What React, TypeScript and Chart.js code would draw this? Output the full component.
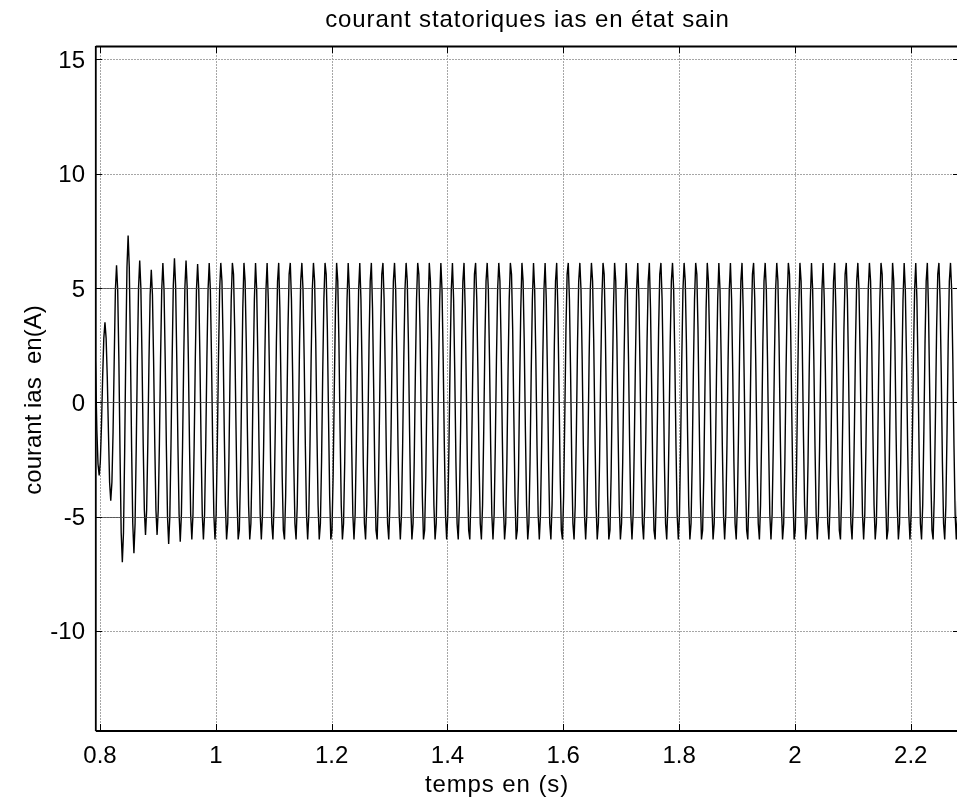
import React, { useEffect, useRef } from 'react';
import { Chart, registerables } from 'chart.js';

Chart.register(...registerables);

const TITLE = 'courant statoriques ias en état sain';
const X_LABEL = 'temps en (s)';
const Y_LABEL = 'courant ias  en(A)';

const xTicks = [0.8, 1, 1.2, 1.4, 1.6, 1.8, 2, 2.2];
const xTickLabels = ['0.8', '1', '1.2', '1.4', '1.6', '1.8', '2', '2.2'];
const yTicks = [-10, -5, 0, 5, 10, 15];
const yTickLabels = ['-10', '-5', '0', '5', '10', '15'];
const xRange = [0.7914, 2.285];
const yRange = [-14.38, 15.59];

// sampled stator current ias (A), one sample every sampleStep seconds from sampleStart
const sampleStart = 0.7886;
const sampleStep = 0.002;
const current = [
  3.1, 2.9, 1.3, -1.2, -2.7, -3.2, -2.6, -1.0, 1.1, 2.8,
  3.5, 2.8, 1.1, -1.3, -3.5, -4.3, -3.5, -1.3, 1.9, 4.9,
  6.0, 4.9, 1.9, -2.2, -5.7, -7.0, -5.7, -2.2, 2.3, 5.9,
  7.3, 5.9, 2.3, -2.0, -5.3, -6.6, -5.3, -2.0, 1.9, 5.0,
  6.2, 5.0, 1.9, -1.8, -4.7, -5.8, -4.7, -1.8, 1.8, 4.7,
  5.8, 4.7, 1.8, -1.8, -4.7, -5.8, -4.7, -1.8, 1.9, 4.9,
  6.1, 4.9, 1.9, -1.9, -5.0, -6.2, -5.0, -1.9, 1.9, 5.1,
  6.3, 5.1, 1.9, -1.9, -4.9, -6.1, -4.9, -1.9, 1.9, 5.0,
  6.2, 5.0, 1.9, -1.9, -4.9, -6.0, -4.9, -1.9, 1.9, 4.9,
  6.05, 4.9, 1.9, -1.9, -4.9, -6.0, -4.9, -1.9, 1.9, 4.9,
  6.1, 4.9, 1.9, -1.9, -4.9, -6, -4.9, -1.9, 1.9, 4.9,
  6.1, 5.3, 2.6, -1.3, -4.5, -6, -5.3, -2.6, 1.3, 4.5,
  6.1, 5.6, 3.2, -0.6, -4.1, -6, -5.6, -3.2, 0.6, 4.1,
  6.1, 5.3, 2.6, -1.3, -4.5, -6, -5.3, -2.6, 1.3, 4.5,
  6.1, 4.9, 1.9, -1.9, -4.9, -6, -4.9, -1.9, 1.9, 4.9,
  6.1, 4.5, 1.3, -2.6, -5.3, -6, -4.5, -1.3, 2.6, 5.3,
  6.1, 4.1, 0.6, -3.2, -5.6, -6, -4.1, -0.6, 3.2, 5.6,
  6.1, 4.5, 1.3, -2.6, -5.3, -6, -4.5, -1.3, 2.6, 5.3,
  6.1, 4.9, 1.9, -1.9, -4.9, -6, -4.9, -1.9, 1.9, 4.9,
  6.1, 5.3, 2.6, -1.3, -4.5, -6, -5.3, -2.6, 1.3, 4.5,
  6.1, 5.6, 3.2, -0.6, -4.1, -6, -5.6, -3.2, 0.6, 4.1,
  6.1, 5.3, 2.6, -1.3, -4.5, -6, -5.3, -2.6, 1.3, 4.5,
  6.1, 4.9, 1.9, -1.9, -4.9, -6, -4.9, -1.9, 1.9, 4.9,
  6.1, 4.5, 1.3, -2.6, -5.3, -6, -4.5, -1.3, 2.6, 5.3,
  6.1, 4.1, 0.6, -3.2, -5.6, -6, -4.1, -0.6, 3.2, 5.6,
  6.1, 4.5, 1.3, -2.6, -5.3, -6, -4.5, -1.3, 2.6, 5.3,
  6.1, 4.9, 1.9, -1.9, -4.9, -6, -4.9, -1.9, 1.9, 4.9,
  6.1, 5.3, 2.6, -1.3, -4.5, -6, -5.3, -2.6, 1.3, 4.5,
  6.1, 5.6, 3.2, -0.6, -4.1, -6, -5.6, -3.2, 0.6, 4.1,
  6.1, 5.3, 2.6, -1.3, -4.5, -6, -5.3, -2.6, 1.3, 4.5,
  6.1, 4.9, 1.9, -1.9, -4.9, -6, -4.9, -1.9, 1.9, 4.9,
  6.1, 4.5, 1.3, -2.6, -5.3, -6, -4.5, -1.3, 2.6, 5.3,
  6.1, 4.1, 0.6, -3.2, -5.6, -6, -4.1, -0.6, 3.2, 5.6,
  6.1, 4.5, 1.3, -2.6, -5.3, -6, -4.5, -1.3, 2.6, 5.3,
  6.1, 4.9, 1.9, -1.9, -4.9, -6, -4.9, -1.9, 1.9, 4.9,
  6.1, 5.3, 2.6, -1.3, -4.5, -6, -5.3, -2.6, 1.3, 4.5,
  6.1, 5.6, 3.2, -0.6, -4.1, -6, -5.6, -3.2, 0.6, 4.1,
  6.1, 5.3, 2.6, -1.3, -4.5, -6, -5.3, -2.6, 1.3, 4.5,
  6.1, 4.9, 1.9, -1.9, -4.9, -6, -4.9, -1.9, 1.9, 4.9,
  6.1, 4.5, 1.3, -2.6, -5.3, -6, -4.5, -1.3, 2.6, 5.3,
  6.1, 4.1, 0.6, -3.2, -5.6, -6, -4.1, -0.6, 3.2, 5.6,
  6.1, 4.5, 1.3, -2.6, -5.3, -6, -4.5, -1.3, 2.6, 5.3,
  6.1, 4.9, 1.9, -1.9, -4.9, -6, -4.9, -1.9, 1.9, 4.9,
  6.1, 5.3, 2.6, -1.3, -4.5, -6, -5.3, -2.6, 1.3, 4.5,
  6.1, 5.6, 3.2, -0.6, -4.1, -6, -5.6, -3.2, 0.6, 4.1,
  6.1, 5.3, 2.6, -1.3, -4.5, -6, -5.3, -2.6, 1.3, 4.5,
  6.1, 4.9, 1.9, -1.9, -4.9, -6, -4.9, -1.9, 1.9, 4.9,
  6.1, 4.5, 1.3, -2.6, -5.3, -6, -4.5, -1.3, 2.6, 5.3,
  6.1, 4.1, 0.6, -3.2, -5.6, -6, -4.1, -0.6, 3.2, 5.6,
  6.1, 4.5, 1.3, -2.6, -5.3, -6, -4.5, -1.3, 2.6, 5.3,
  6.1, 4.9, 1.9, -1.9, -4.9, -6, -4.9, -1.9, 1.9, 4.9,
  6.1, 5.3, 2.6, -1.3, -4.5, -6, -5.3, -2.6, 1.3, 4.5,
  6.1, 5.6, 3.2, -0.6, -4.1, -6, -5.6, -3.2, 0.6, 4.1,
  6.1, 5.3, 2.6, -1.3, -4.5, -6, -5.3, -2.6, 1.3, 4.5,
  6.1, 4.9, 1.9, -1.9, -4.9, -6, -4.9, -1.9, 1.9, 4.9,
  6.1, 4.5, 1.3, -2.6, -5.3, -6, -4.5, -1.3, 2.6, 5.3,
  6.1, 4.1, 0.6, -3.2, -5.6, -6, -4.1, -0.6, 3.2, 5.6,
  6.1, 4.5, 1.3, -2.6, -5.3, -6, -4.5, -1.3, 2.6, 5.3,
  6.1, 4.9, 1.9, -1.9, -4.9, -6, -4.9, -1.9, 1.9, 4.9,
  6.1, 5.3, 2.6, -1.3, -4.5, -6, -5.3, -2.6, 1.3, 4.5,
  6.1, 5.6, 3.2, -0.6, -4.1, -6, -5.6, -3.2, 0.6, 4.1,
  6.1, 5.3, 2.6, -1.3, -4.5, -6, -5.3, -2.6, 1.3, 4.5,
  6.1, 4.9, 1.9, -1.9, -4.9, -6, -4.9, -1.9, 1.9, 4.9,
  6.1, 4.5, 1.3, -2.6, -5.3, -6, -4.5, -1.3, 2.6, 5.3,
  6.1, 4.1, 0.6, -3.2, -5.6, -6, -4.1, -0.6, 3.2, 5.6,
  6.1, 4.5, 1.3, -2.6, -5.3, -6, -4.5, -1.3, 2.6, 5.3,
  6.1, 4.9, 1.9, -1.9, -4.9, -6, -4.9, -1.9, 1.9, 4.9,
  6.1, 5.3, 2.6, -1.3, -4.5, -6, -5.3, -2.6, 1.3, 4.5,
  6.1, 5.6, 3.2, -0.6, -4.1, -6, -5.6, -3.2, 0.6, 4.1,
  6.1, 5.3, 2.6, -1.3, -4.5, -6, -5.3, -2.6, 1.3, 4.5,
  6.1, 4.9, 1.9, -1.9, -4.9, -6, -4.9, -1.9, 1.9, 4.9,
  6.1, 4.5, 1.3, -2.6, -5.3, -6, -4.5, -1.3, 2.6, 5.3,
  6.1, 4.1, 0.6, -3.2, -5.6, -6, -4.1, -0.6, 3.2, 5.6,
  6.1, 4.5, 1.3, -2.6, -5.3, -6, -4.5, -1.3, 2.6, 5.3,
  6.1, 4.9, 1.9, -1.9, -4.9, -6, -4.9, -1.9, 1.9, 4.9,
  6.1,
];

const FONT = '"Liberation Sans", Arial, Helvetica, sans-serif';
const CANVAS_W = 1000;
const CANVAS_H = 802;

const matlabAxesPlugin = {
  id: 'matlabAxes',
  beforeDatasetsDraw(chart: any) {
    const { ctx, chartArea: a, scales } = chart;
    const x = scales.x;
    const y = scales.y;
    ctx.save();
    ctx.strokeStyle = '#a6a6a6';
    ctx.lineWidth = 1;
    ctx.setLineDash([2, 1]);
    xTicks.forEach((v) => {
      const px = Math.round(x.getPixelForValue(v)) + 0.5;
      ctx.beginPath();
      ctx.moveTo(px, a.top);
      ctx.lineTo(px, a.bottom);
      ctx.stroke();
    });
    yTicks.forEach((v) => {
      const py = Math.round(y.getPixelForValue(v)) + 0.5;
      ctx.beginPath();
      ctx.moveTo(a.left, py);
      ctx.lineTo(a.right, py);
      ctx.stroke();
    });
    ctx.restore();
  },
  afterDatasetsDraw(chart: any) {
    const { ctx, chartArea: a, scales } = chart;
    const y = scales.y;
    const lo = Math.min(...current);
    const hi = Math.max(...current);
    ctx.save();
    ctx.strokeStyle = 'rgba(70,70,70,0.8)';
    ctx.lineWidth = 1;
    yTicks.forEach((v) => {
      if (v <= lo || v >= hi) return;
      const py = Math.round(y.getPixelForValue(v)) + 0.5;
      ctx.beginPath();
      ctx.moveTo(a.left, py);
      ctx.lineTo(a.right, py);
      ctx.stroke();
    });
    ctx.restore();
  },
  afterDraw(chart: any) {
    const { ctx, chartArea: a, scales } = chart;
    const x = scales.x;
    const y = scales.y;
    ctx.save();
    // frame
    ctx.strokeStyle = '#000';
    ctx.lineWidth = 1.8;
    ctx.beginPath();
    ctx.moveTo(a.left + 0.8, a.top + 0.5);
    ctx.lineTo(a.right, a.top + 0.5);
    ctx.moveTo(a.left + 0.8, a.bottom);
    ctx.lineTo(a.right, a.bottom);
    ctx.moveTo(a.left + 0.8, a.top);
    ctx.lineTo(a.left + 0.8, a.bottom);
    ctx.moveTo(a.right, a.top);
    ctx.lineTo(a.right, a.bottom);
    ctx.stroke();
    // inward ticks
    const tl = 7;
    ctx.lineWidth = 1;
    xTicks.forEach((v) => {
      const px = Math.round(x.getPixelForValue(v)) + 0.5;
      ctx.beginPath();
      ctx.moveTo(px, a.bottom);
      ctx.lineTo(px, a.bottom - tl);
      ctx.moveTo(px, a.top);
      ctx.lineTo(px, a.top + tl);
      ctx.stroke();
    });
    yTicks.forEach((v) => {
      const py = Math.round(y.getPixelForValue(v)) + 0.5;
      ctx.beginPath();
      ctx.moveTo(a.left, py);
      ctx.lineTo(a.left + tl, py);
      ctx.moveTo(a.right, py);
      ctx.lineTo(a.right - tl, py);
      ctx.stroke();
    });
    // tick labels
    ctx.fillStyle = '#000';
    ctx.font = `24px ${FONT}`;
    ctx.textBaseline = 'alphabetic';
    ctx.textAlign = 'center';
    xTicks.forEach((v, i) => {
      ctx.fillText(xTickLabels[i], x.getPixelForValue(v), 763);
    });
    ctx.textAlign = 'right';
    yTicks.forEach((v, i) => {
      ctx.fillText(yTickLabels[i], a.left - 10, y.getPixelForValue(v) + 8.5);
    });
    // title and axis labels
    (ctx as any).letterSpacing = '0.9px';
    ctx.textAlign = 'center';
    ctx.fillText(TITLE, 527.5, 27);
    ctx.fillText(X_LABEL, 497, 792);
    (ctx as any).letterSpacing = '0px';
    ctx.translate(41, 400);
    ctx.rotate(-Math.PI / 2);
    ctx.fillText(Y_LABEL, 0, 0);
    ctx.restore();
  },
};

export default function App() {
  const canvasRef = useRef<HTMLCanvasElement | null>(null);

  useEffect(() => {
    const canvas = canvasRef.current;
    if (!canvas) return;
    const points = current.map((v, i) => ({ x: sampleStart + i * sampleStep, y: v }));
    const chart = new Chart(canvas, {
      type: 'line',
      data: {
        datasets: [
          {
            data: points,
            borderColor: '#000',
            borderWidth: 1.4,
            pointRadius: 0,
            tension: 0,
            fill: false,
          },
        ],
      },
      options: {
        animation: false,
        responsive: false,
        devicePixelRatio: 1,
        parsing: false,
        normalized: true,
        events: [],
        layout: {
          padding: { left: 95, top: 46, right: CANVAS_W - 960, bottom: CANVAS_H - 731 },
        },
        plugins: {
          legend: { display: false },
          title: { display: false },
          tooltip: { enabled: false },
        },
        scales: {
          x: { type: 'linear', display: false, min: xRange[0], max: xRange[1] },
          y: { type: 'linear', display: false, min: yRange[0], max: yRange[1] },
        },
      },
      plugins: [matlabAxesPlugin],
    });
    return () => chart.destroy();
  }, []);

  return (
    <div
      style={{
        position: 'fixed',
        left: 0,
        top: 0,
        width: 957,
        height: 802,
        overflow: 'hidden',
        background: '#fff',
      }}
    >
      <canvas
        ref={canvasRef}
        width={CANVAS_W}
        height={CANVAS_H}
        style={{ width: CANVAS_W, height: CANVAS_H, display: 'block' }}
      />
    </div>
  );
}
